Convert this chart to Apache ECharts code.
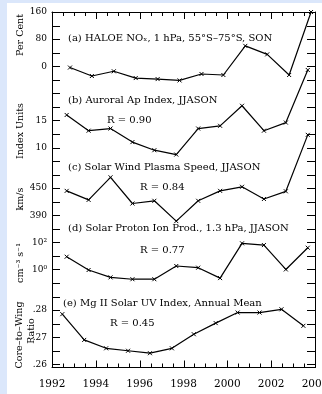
<!DOCTYPE html>
<html>
<head>
<meta charset="utf-8">
<script src="https://cdn.jsdelivr.net/npm/echarts@6/dist/echarts.min.js"></script>
<style>
  html, body { margin: 0; padding: 0; background: #dbe7fb; overflow: hidden; }
  #paper { position: absolute; left: 7px; top: 3px; width: 315px; height: 391px; background: #fff; }
  /* wider than the window so the last year label runs off the edge */
  #chart { position: absolute; left: 0; top: 0; width: 360px; height: 394px; }
</style>
</head>
<body>
<div id="paper"></div>
<div id="chart"></div>
<script>
const years = [1992, 1993, 1994, 1995, 1996, 1997, 1998, 1999, 2000, 2001, 2002, 2003]
// where in the year each mean is plotted
const sonOffset = 0.82
const jjasonOffset = 0.67
const annualOffset = 0.47

const noxPercent = [-4, -29, -15, -35, -38, -42, -23, -26, 60, 35, -26, 160]
const apIndex = [16.0, 13.1, 13.5, 11.0, 9.5, 8.7, 13.5, 14.0, 17.7, 13.1, 14.6, 24.3]
const windSpeed = [444, 424, 474, 416, 422, 377, 422, 444, 453, 426, 443, 568]
const protonIonProd = [8.7, 0.91, 0.26, 0.19, 0.19, 1.8, 1.35, 0.23, 85, 63, 1.0, 40]
const mgIIRatio = [0.2785, 0.269, 0.2659, 0.265, 0.2641, 0.2659, 0.2711, 0.2752, 0.2791, 0.2791, 0.2803, 0.2742]

// labelled values on the left axis of each panel
const noxLabels = [0, 80, 160]
const apLabels = [10, 15]
const windLabels = [390, 450]
const protonLabels = [1, 100]   // cm^-3 s^-1, log axis
const mgLabels = [0.26, 0.27, 0.28]

const FONT = '"DejaVu Serif", serif'
const frame = { left: 52, right: 45, top: 12, height: 355.5 }
const tickStep = 13.55
const nSpan = frame.height / tickStep
const yearMin = 1992
const yearMax = 2004

// every panel shares the frame; its scale is fixed by a value v0 at tick row n0 and k units per row
function span(v0, n0, k) {
  return { min: v0 - k * (nSpan - n0), max: v0 + k * n0 }
}

const log10 = (v) => Math.log10(v)
const supers = { '0': '⁰', '1': '¹', '2': '²', '3': '³' }

const panels = [
  { values: noxPercent, offset: sonOffset, range: span(160, 0, 40), labels: noxLabels, fmt: (v) => String(v) },
  { values: apIndex, offset: jjasonOffset, range: span(15, 8, 2.5), labels: apLabels, fmt: (v) => String(v) },
  { values: windSpeed, offset: jjasonOffset, range: span(450, 13, 30), labels: windLabels, fmt: (v) => String(v) },
  {
    values: protonIonProd.map(log10), offset: jjasonOffset, range: span(2, 17, 1),
    labels: protonLabels.map(log10),
    fmt: (v) => '10' + supers[String(Math.round(v))],
  },
  { values: mgIIRatio, offset: annualOffset, range: span(0.28, 22, 0.005), labels: mgLabels, fmt: (v) => v.toFixed(2).replace('0.', '.') },
]

const black = { color: '#000', width: 1 }
const grids = []
const xAxes = []
const yAxes = []
const series = []

panels.forEach((p, i) => {
  grids.push(Object.assign({}, frame))
  xAxes.push({ gridIndex: i, type: 'value', min: yearMin, max: yearMax, show: false })
  yAxes.push({
    gridIndex: i, type: 'value', position: 'left',
    min: p.range.min, max: p.range.max,
    axisLine: { show: false },
    splitLine: { show: false },
    axisTick: { show: false },
    axisLabel: { show: true, margin: 5, color: '#000', fontFamily: FONT, fontSize: 9, customValues: p.labels, formatter: p.fmt },
  })
  series.push({
    type: 'line',
    xAxisIndex: i, yAxisIndex: i,
    data: years.map((y, j) => [y + p.offset, p.values[j]]),
    symbol: 'path://M0,0L10,10M10,0L0,10',
    symbolSize: 4,
    showSymbol: true,
    lineStyle: { color: '#000', width: 1.2 },
    itemStyle: { color: 'rgba(0,0,0,0)', borderColor: '#000', borderWidth: 1 },
    clip: false,
    silent: true,
  })
})

// frame grid: year axis and an even row axis shared by all panels
const fg = grids.length
grids.push(Object.assign({}, frame))
xAxes.push({
  gridIndex: fg, type: 'value', min: yearMin, max: yearMax, interval: 2, position: 'bottom',
  axisLine: { show: true, onZero: false, lineStyle: black },
  axisTick: { show: false },
  splitLine: { show: false },
  axisLabel: {
    show: true, margin: 11, color: '#000', fontFamily: FONT, fontSize: 10.5,
    formatter: (v) => String(v), showMinLabel: true, showMaxLabel: true,
  },
})
yAxes.push({
  gridIndex: fg, type: 'value', position: 'left', inverse: true,
  min: 0, max: nSpan, interval: 1,
  axisLine: { show: true, onZero: false, lineStyle: black },
  splitLine: { show: false },
  axisTick: { show: false },
  axisLabel: { show: false },
})
// top and right sides of the frame
grids.push(Object.assign({}, frame))
xAxes.push({ gridIndex: fg + 1, type: 'value', min: yearMin, max: yearMax, position: 'top', axisLine: { show: true, onZero: false, lineStyle: black }, axisTick: { show: false }, axisLabel: { show: false }, splitLine: { show: false } })
yAxes.push({ gridIndex: fg + 1, type: 'value', min: 0, max: nSpan, position: 'right', axisLine: { show: true, onZero: false, lineStyle: black }, axisTick: { show: false }, axisLabel: { show: false }, splitLine: { show: false } })

// inward ticks on all four sides, placed through the frame grid's scales
// each entry: [year, row, kind] with kind 0 = year tick, 1 = row tick
const tickMarks = []
for (let t = yearMin; t <= yearMax; t += 0.5) tickMarks.push([t, 0, 0])
for (let n = 0; n <= Math.floor(nSpan); n++) tickMarks.push([yearMin, n, 1])

series.push({
  type: 'custom',
  xAxisIndex: fg, yAxisIndex: fg,
  data: tickMarks,
  encode: { x: 0, y: 1 },
  clip: false,
  silent: true,
  renderItem: (params, api) => {
    const t = api.value(0)
    const n = api.value(1)
    const kind = api.value(2)
    const style = { stroke: '#000', lineWidth: 1 }
    if (kind === 0) {
      const len = t % 2 === 0 ? 7 : 4
      const top = api.coord([t, 0])
      const bottom = api.coord([t, nSpan])
      const x = Math.round(top[0]) + 0.5
      return {
        type: 'group',
        children: [
          { type: 'line', shape: { x1: x, y1: bottom[1], x2: x, y2: bottom[1] - len }, style },
          { type: 'line', shape: { x1: x, y1: top[1], x2: x, y2: top[1] + len }, style },
        ],
      }
    }
    const left = api.coord([yearMin, n])
    const right = api.coord([yearMax, n])
    const y = Math.round(left[1]) + 0.5
    return {
      type: 'group',
      children: [
        { type: 'line', shape: { x1: left[0], y1: y, x2: left[0] + 8, y2: y }, style },
        { type: 'line', shape: { x1: right[0], y1: y, x2: right[0] - 8, y2: y }, style },
      ],
    }
  },
})

function note(text, x, y) {
  return { type: 'text', x, y, silent: true, style: { text, font: '10px ' + FONT, fill: '#000', align: 'left', verticalAlign: 'middle' } }
}
function sideTitle(text, x, y) {
  return { type: 'text', x, y, rotation: Math.PI / 2, silent: true, style: { text, font: '9.5px ' + FONT, fill: '#000', align: 'center', verticalAlign: 'middle' } }
}

const graphic = [
  note('(a) HALOE NOₓ, 1 hPa, 55°S–75°S, SON', 68, 38),
  note('(b) Auroral Ap Index, JJASON', 68, 100),
  note('R = 0.90', 107, 120),
  note('(c) Solar Wind Plasma Speed, JJASON', 68, 167),
  note('R = 0.84', 140, 187),
  note('(d) Solar Proton Ion Prod., 1.3 hPa, JJASON', 68, 228.5),
  note('R = 0.77', 140, 250),
  note('(e) Mg II Solar UV Index, Annual Mean', 63, 303),
  note('R = 0.45', 110, 323),
  sideTitle('Per Cent', 21, 35),
  sideTitle('Index Units', 21, 131),
  sideTitle('km/s', 21, 199),
  sideTitle('cm⁻³ s⁻¹', 21, 263),
  sideTitle('Core–to–Wing', 20, 335),
  sideTitle('Ratio', 32, 331),
]

const chart = echarts.init(document.getElementById('chart'))
chart.setOption({
  animation: false,
  backgroundColor: 'transparent',
  grid: grids,
  xAxis: xAxes,
  yAxis: yAxes,
  series,
  graphic,
})
</script>
</body>
</html>
